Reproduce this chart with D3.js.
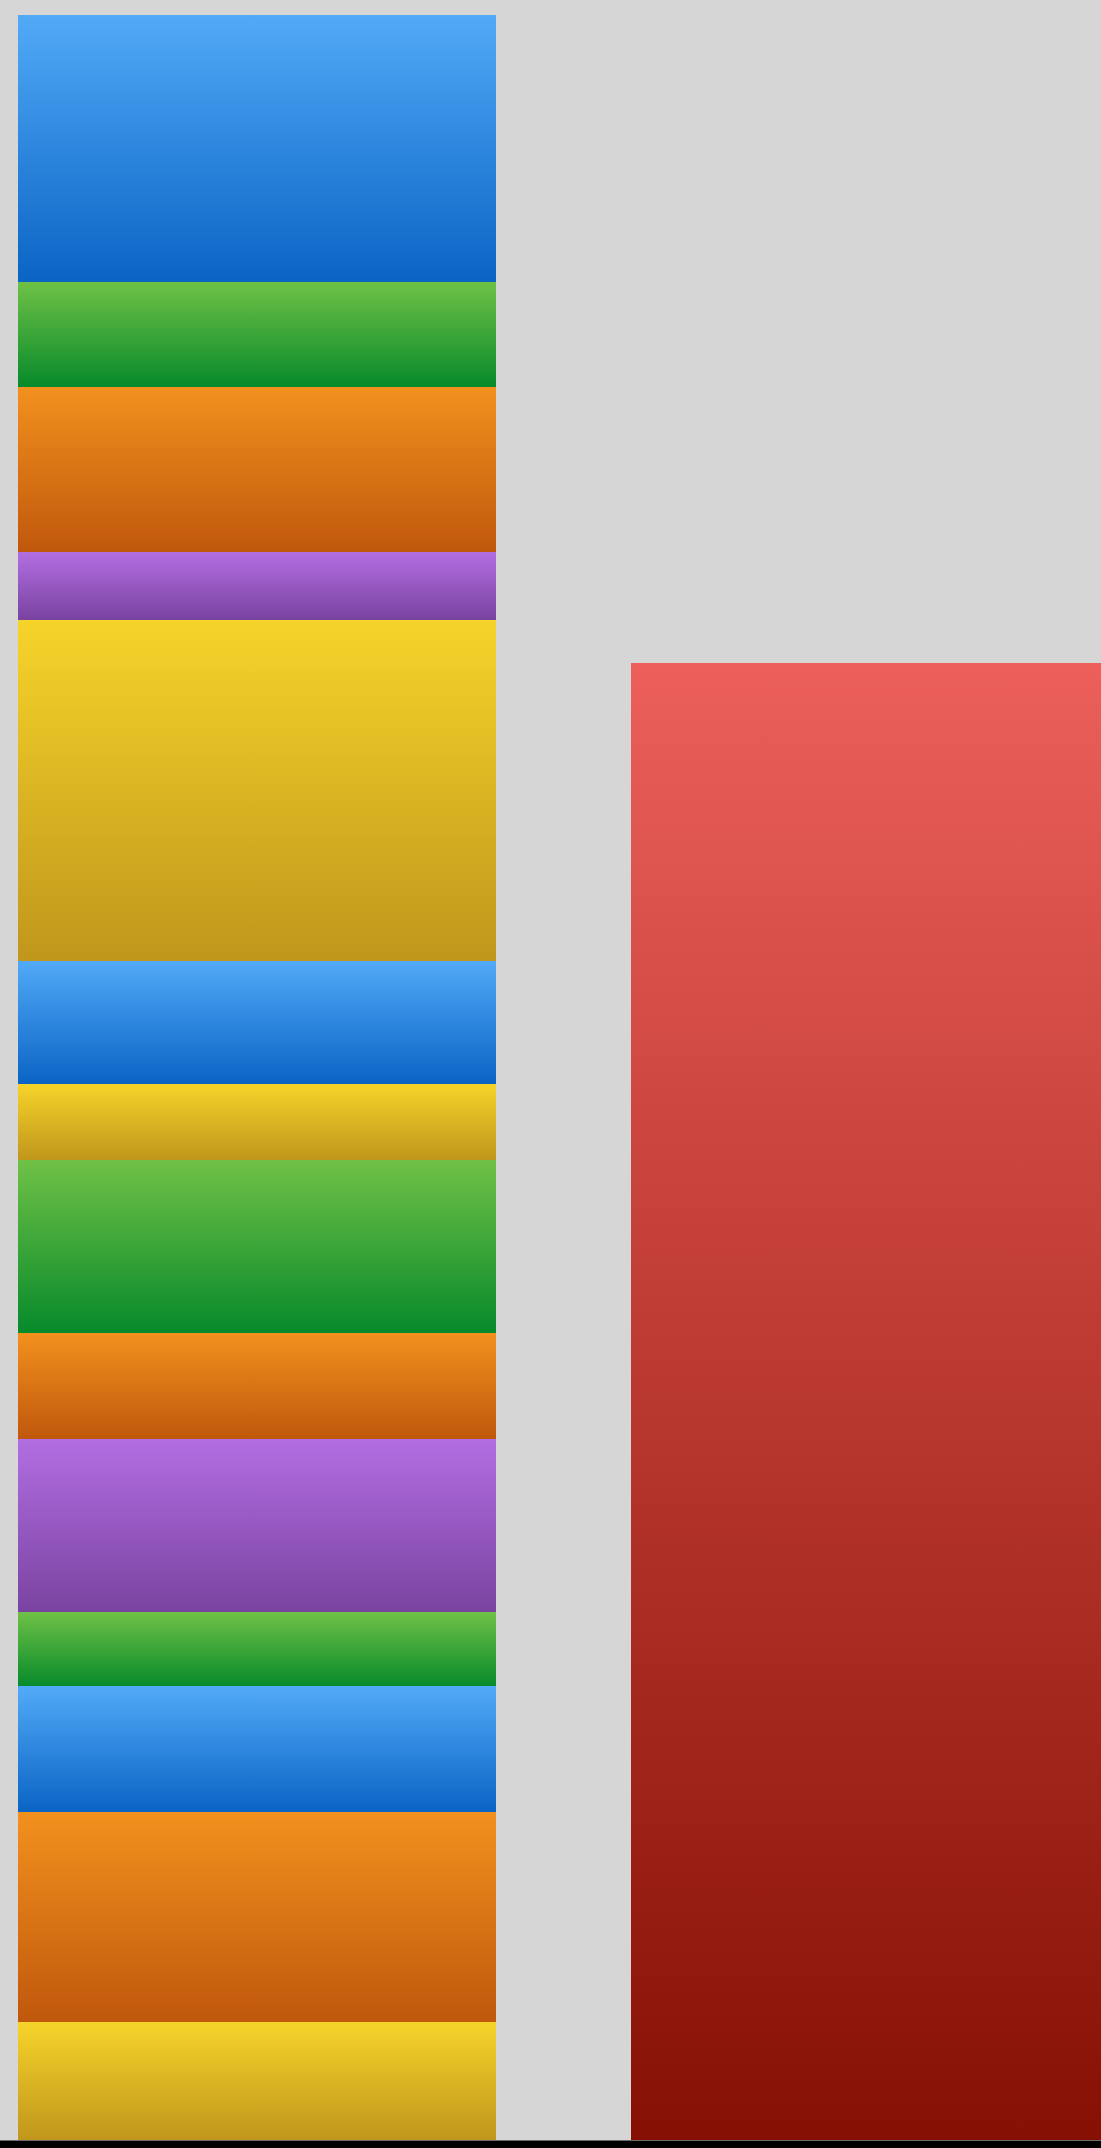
<!DOCTYPE html>
<html>
<head>
<meta charset="utf-8">
<script src="https://cdn.jsdelivr.net/npm/d3@7"></script>
<style>
html,body{margin:0;padding:0;background:#d6d6d6;}
svg{display:block;}
</style>
</head>
<body>
<script>
// Data
const categories = ["Stack A", "Stack B"];
// segments of the first bar, bottom to top
const segmentColors = ["yellow","orange","blue","green","purple","orange","green","yellow","blue","yellow","purple","orange","green","blue"];
const segmentValues = [11.1, 19.8, 11.8, 7.0, 16.3, 10.0, 16.2, 7.2, 11.6, 32.1, 6.4, 15.5, 9.9, 25.1];
const secondBarColors = ["red"];
const secondBarValues = [139.0];

const palette = {
  blue:   ["#52aaf7", "#0a64c4"],
  green:  ["#6fc146", "#078a2b"],
  orange: ["#f2911e", "#c0580c"],
  purple: ["#b26ee2", "#7a43a0"],
  yellow: ["#f6d42a", "#c1961c"],
  red:    ["#ec5f5a", "#861004"]
};

const W = 1101, H = 2148;
const svg = d3.select("body").append("svg").attr("width", W).attr("height", H);
svg.append("rect").attr("width", W).attr("height", H).attr("fill", "#d6d6d6");

const defs = svg.append("defs");
Object.entries(palette).forEach(([k, [c1, c2]]) => {
  const g = defs.append("linearGradient").attr("id", "g-" + k)
    .attr("x1", 0).attr("y1", 0).attr("x2", 0).attr("y2", 1);
  g.append("stop").attr("offset", "0%").attr("stop-color", c1);
  g.append("stop").attr("offset", "100%").attr("stop-color", c2);
});

const x = d3.scaleBand().domain(categories).range([18, 1109]).paddingInner(135 / 613).paddingOuter(0);
const y = d3.scaleLinear().domain([0, d3.sum(segmentValues)]).range([2140, 15]);

function stackData(cat, values, colors) {
  let acc = 0;
  return values.map((v, i) => { const d = {cat, y0: acc, y1: acc + v, color: colors[i]}; acc += v; return d; });
}
const data = stackData(categories[0], segmentValues, segmentColors)
  .concat(stackData(categories[1], secondBarValues, secondBarColors));

svg.append("g").selectAll("rect").data(data).join("rect")
  .attr("x", d => x(d.cat))
  .attr("width", x.bandwidth())
  .attr("y", d => y(d.y1))
  .attr("height", d => y(d.y0) - y(d.y1))
  .attr("fill", d => "url(#g-" + d.color + ")")
  .attr("shape-rendering", "crispEdges");

// baseline axis
const axis = svg.append("g").attr("transform", "translate(0,2144.5)")
  .call(d3.axisBottom(x).tickSize(0).tickFormat(""));
axis.select(".domain").attr("d", "M0,0H" + W).attr("stroke", "#000").attr("stroke-width", 8);
</script>
</body>
</html>
